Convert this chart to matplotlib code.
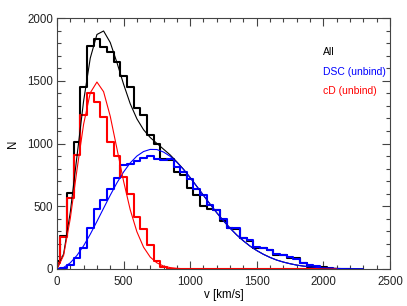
import matplotlib
matplotlib.use("Agg")
import matplotlib.pyplot as plt
from matplotlib.ticker import MultipleLocator

plt.rcParams["font.family"] = ["Liberation Sans", "DejaVu Sans"]

# bin centres [km/s]
v_bins = [0, 50, 100, 150, 200, 250, 300, 350, 400, 450, 500, 550, 600, 650,
          700, 750, 800, 850, 900, 950, 1000, 1050, 1100, 1150, 1200, 1250,
          1300, 1350, 1400, 1450, 1500, 1550, 1600, 1650, 1700, 1750, 1800,
          1850, 1900, 1950, 2000, 2050, 2100, 2150, 2200, 2250, 2300]

# histograms
n_all = [60, 263, 603, 1010, 1450, 1775, 1830, 1770, 1730, 1650, 1540, 1450,
         1280, 1230, 1070, 1000, 880, 870, 775, 750, 645, 590, 500, 475, 470,
         380, 330, 320, 250, 220, 170, 165, 155, 115, 115, 90, 85, 50, 15, 15,
         12, 3, 2, 1, 0]
n_dsc = [0, 5, 30, 85, 170, 324, 480, 552, 635, 722, 829, 837, 863, 882, 900,
         880, 870, 875, 815, 770, 720, 640, 590, 510, 470, 400, 330, 330, 250,
         230, 175, 170, 150, 120, 110, 95, 80, 50, 30, 20, 10, 8, 3, 1, 0]
n_cd = [50, 257, 563, 910, 1230, 1400, 1330, 1210, 1010, 900, 730, 600, 415,
        315, 190, 65, 15, 0, 0, 0, 0, 0, 0, 0, 0, 0, 0, 0, 0, 0, 0, 0, 0, 0, 0,
        0, 0, 0, 0, 0, 0, 0, 0]

# fitted curves, sampled on the same grid
fit_cd = [0, 109, 403, 789, 1154, 1404, 1490, 1413, 1217, 960, 700, 472, 297,
          174, 95, 49, 23, 11, 5, 2, 1, 0, 0, 0, 0, 0, 0, 0, 0, 0, 0, 0, 0, 0,
          0, 0, 0, 0, 0, 0, 0, 0, 0]
fit_dsc = [0, 12, 49, 108, 185, 277, 379, 484, 588, 686, 773, 845, 900, 936,
           953, 952, 932, 898, 850, 793, 728, 658, 587, 516, 448, 384, 325,
           271, 224, 182, 147, 117, 92, 71, 55, 42, 31, 23, 17, 12, 9, 6, 4,
           3, 2, 2, 1]
fit_all = [0, 121, 452, 897, 1339, 1681, 1869, 1897, 1805, 1646, 1473, 1317,
           1197, 1110, 1048, 1001, 955, 909, 854, 795, 729, 658, 587, 516, 448,
           384, 325, 271, 224, 182, 147, 117, 92, 71, 55, 42, 31, 23, 17, 12,
           9, 6, 4, 3, 2, 2, 1]

fig = plt.figure(figsize=(4.07, 3.06), dpi=100)
ax = fig.add_axes([0.140, 0.121, 0.818, 0.820])

ax.step(v_bins[:len(n_all)], n_all, where="mid", color="black", lw=1.5)
ax.step(v_bins[:len(n_dsc)], n_dsc, where="mid", color="#0000ff", lw=1.5)
ax.step(v_bins[:len(n_cd)], n_cd, where="mid", color="#ff0000", lw=1.5)

ax.plot(v_bins[:len(fit_all)], fit_all, color="black", lw=0.8)
ax.plot(v_bins[:len(fit_dsc)], fit_dsc, color="#0000ff", lw=0.8)
ax.plot(v_bins[:len(fit_cd)], fit_cd, color="#ff0000", lw=0.8)

ax.set_xlim(0, 2500)
ax.set_ylim(0, 2000)
ax.xaxis.set_major_locator(MultipleLocator(500))
ax.xaxis.set_minor_locator(MultipleLocator(100))
ax.yaxis.set_major_locator(MultipleLocator(500))
ax.yaxis.set_minor_locator(MultipleLocator(100))
ax.tick_params(which="both", direction="in", top=True, right=True,
               color="#444444", labelsize=8.3, labelcolor="#222222")
ax.tick_params(which="major", length=6, width=0.8)
ax.tick_params(which="minor", length=3, width=0.8)
ax.tick_params(axis="x", pad=5)
ax.tick_params(axis="y", pad=3)
for s in ax.spines.values():
    s.set_linewidth(0.8)
    s.set_color("#444444")

ax.set_xlabel("v [km/s]", fontsize=8.3, labelpad=1)
ax.set_ylabel("N", fontsize=8.3, labelpad=6)

ax.text(0.80, 0.865, "All", transform=ax.transAxes, fontsize=7.5,
        color="black", va="center")
ax.text(0.80, 0.785, "DSC (unbind)", transform=ax.transAxes, fontsize=7.5,
        color="#0000ff", va="center")
ax.text(0.80, 0.709, "cD (unbind)", transform=ax.transAxes, fontsize=7.5,
        color="#ff0000", va="center")

plt.savefig("out.png", dpi=100)
plt.close()
